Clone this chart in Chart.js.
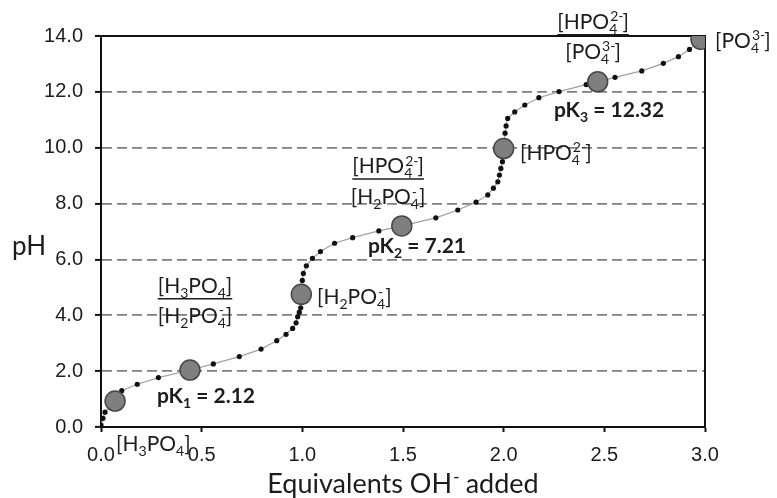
<!DOCTYPE html>
<html>
<head>
<meta charset="utf-8">
<script src="https://cdn.jsdelivr.net/npm/chart.js@4.4.0/dist/chart.umd.min.js"></script>
<style>
	html, body { margin: 0; padding: 0; background: #fff; }
	#wrap { width: 777px; height: 498px; }
</style>
</head>
<body>
<div id="wrap"><canvas id="chart-1" width="777" height="498"></canvas></div>
<script>
// small dots along the titration curve (equivalents OH- / pH)
var curveX = [0.0, 0.01, 0.02, 0.103, 0.18, 0.285, 0.558, 0.687, 0.795, 0.873, 0.919, 0.952, 0.969, 0.977, 0.985, 0.992,
	1.0, 1.005, 1.02, 1.05, 1.09, 1.16, 1.25, 1.38, 1.663, 1.772, 1.863, 1.921, 1.949, 1.971, 1.979, 1.986, 1.994,
	2.007, 2.012, 2.02, 2.055, 2.105, 2.175, 2.275, 2.41, 2.553, 2.686, 2.793, 2.868, 2.923];
var curveY = [0.07, 0.31, 0.53, 1.30, 1.53, 1.77, 2.26, 2.52, 2.79, 3.09, 3.32, 3.53, 3.73, 3.95, 4.11, 4.27,
	5.25, 5.50, 5.77, 6.04, 6.28, 6.58, 6.78, 7.02, 7.49, 7.77, 8.05, 8.31, 8.55, 8.78, 9.02, 9.26, 9.50,
	10.52, 10.78, 11.05, 11.28, 11.53, 11.79, 12.01, 12.26, 12.52, 12.75, 13.02, 13.26, 13.52];
// big grey circles (start, half-equivalence and equivalence points)
var markX = [0.07, 0.442, 0.995, 1.494, 2.0, 2.467, 2.98];
var markY = [0.93, 2.04, 4.75, 7.20, 9.97, 12.36, 13.88];
// axes
var xTicks = [0, 0.5, 1.0, 1.5, 2.0, 2.5, 3.0];
var yTicks = [0, 2, 4, 6, 8, 10, 12, 14];
var xTitle = 'Equivalents OH^- added';
var yTitle = 'pH';
// species / pK texts ( _ = subscript, ^ = superscript )
var noteTexts = ['[H_3PO_4]', 'pK_1 = 2.12', '[H_3PO_4]', '[H_2PO_4^-]', '[H_2PO_4^-]', '[HPO_4^{2-}]', '[H_2PO_4^-]',
	'pK_2 = 7.21', '[HPO_4^{2-}]', '[HPO_4^{2-}]', '[PO_4^{3-}]', 'pK_3 = 12.32', '[PO_4^{3-}]'];

// where the texts go, in chart units
var notePlaces = [
	{x: 0.075, y: -0.61},
	{x: 0.278, y: 1.11, bold: true},
	{x: 0.467, y: 5.05, align: 'center', underline: true},
	{x: 0.467, y: 3.97, align: 'center'},
	{x: 1.073, y: 4.65},
	{x: 1.426, y: 9.34, align: 'center', underline: true},
	{x: 1.426, y: 8.23, align: 'center'},
	{x: 1.326, y: 6.48, bold: true},
	{x: 2.081, y: 9.81},
	{x: 2.444, y: 14.5, align: 'center', underline: true},
	{x: 2.444, y: 13.43, align: 'center'},
	{x: 2.25, y: 11.35, bold: true},
	{x: 3.05, y: 13.82}
];

var ink = '#1c1c1c';
var noteFont = 'Lato';

function _parse(s){
	var out = [], buf = '', i = 0;
	function flush(){ if(buf){ out.push({t: buf}); buf = ''; } }
	while(i < s.length){
		if(s[i] === '_' || s[i] === '^'){
			flush();
			var seg = {sub: '', sup: ''};
			while(i < s.length && (s[i] === '_' || s[i] === '^')){
				var key = s[i] === '_' ? 'sub' : 'sup';
				i++;
				var v = '';
				if(s[i] === '{'){
					i++;
					while(i < s.length && s[i] !== '}'){ v += s[i]; i++; }
					i++;
				} else {
					v = s[i]; i++;
				}
				seg[key] = v;
			}
			out.push(seg);
		} else {
			buf += s[i]; i++;
		}
	}
	flush();
	return out;
}

function _drawRich(ctx, str, x, y, size, opt){
	var segs = _parse(str);
	var w = opt.bold ? 'bold ' : '';
	var big = w + size + 'px ' + opt.family;
	var small = w + Math.round(size * 0.68) + 'px ' + opt.family;
	function segW(s){
		if(s.t !== undefined){ ctx.font = big; return ctx.measureText(s.t).width; }
		ctx.font = small;
		return Math.max(ctx.measureText(s.sub).width, ctx.measureText(s.sup).width);
	}
	var total = 0;
	segs.forEach(function(s){ total += segW(s); });
	var cx = opt.align === 'center' ? x - total / 2 : x;
	var x0 = cx;
	var base = y + size * 0.35;
	ctx.save();
	ctx.fillStyle = ink;
	ctx.textAlign = 'left';
	ctx.textBaseline = 'alphabetic';
	segs.forEach(function(s){
		var sw = segW(s);
		if(s.t !== undefined){
			ctx.font = big;
			ctx.fillText(s.t, cx, base);
		} else {
			ctx.font = small;
			if(s.sub) ctx.fillText(s.sub, cx, base + size * 0.22);
			if(s.sup) ctx.fillText(s.sup, cx + 1, base - size * 0.38);
		}
		cx += sw;
	});
	if(opt.underline){
		ctx.strokeStyle = ink;
		ctx.lineWidth = 1.5;
		ctx.beginPath();
		ctx.moveTo(x0, base + size * 0.26);
		ctx.lineTo(x0 + total, base + size * 0.26);
		ctx.stroke();
	}
	ctx.restore();
}

var framePlugin = {
	id: 'frame',
	beforeDatasetsDraw: function(chart){
		var ctx = chart.ctx, a = chart.chartArea;
		ctx.save();
		ctx.strokeStyle = '#111';
		ctx.lineWidth = 2;
		ctx.beginPath();
		ctx.moveTo(a.left - 6, a.top);
		ctx.lineTo(a.right, a.top);
		ctx.lineTo(a.right, a.bottom);
		ctx.stroke();
		ctx.restore();
	}
};

var notesPlugin = {
	id: 'notes',
	afterDraw: function(chart){
		var ctx = chart.ctx, sx = chart.scales.x, sy = chart.scales.y;
		noteTexts.forEach(function(t, i){
			var p = notePlaces[i];
			_drawRich(ctx, t, sx.getPixelForValue(p.x), sy.getPixelForValue(p.y), p.bold ? 21 : 21,
				{family: noteFont, bold: p.bold, align: p.align, underline: p.underline});
		});
		_drawRich(ctx, xTitle, sx.getPixelForValue(1.5), 484, 27, {family: noteFont, align: 'center'});
		_drawRich(ctx, yTitle, 12, 246, 26, {family: noteFont});
	}
};

function _createChart(){
	var curve = curveX.map(function(x, i){ return {x: x, y: curveY[i]}; })
		.concat(markX.map(function(x, i){ return {x: x, y: markY[i]}; }))
		.sort(function(a, b){ return a.x - b.x || a.y - b.y; });
	var marks = markX.map(function(x, i){ return {x: x, y: markY[i]}; });
	var tickFont = {family: 'Liberation Sans', size: 20};

	new Chart(document.getElementById('chart-1'), {
		type: 'scatter',
		data: {
			datasets: [{
				data: marks,
				order: 0,
				showLine: false,
				pointRadius: 10,
				pointBackgroundColor: '#7f7f7f',
				pointBorderColor: '#474747',
				pointBorderWidth: 1.5
			}, {
				data: curve,
				order: 1,
				showLine: true,
				borderColor: '#a0a0a0',
				borderWidth: 1.2,
				pointRadius: 2.6,
				pointBackgroundColor: '#111',
				pointBorderWidth: 0
			}]
		},
		options: {
			responsive: false,
			animation: false,
			events: [],
			layout: {padding: {top: 36, right: 72, left: 0, bottom: 0}},
			plugins: {legend: {display: false}, tooltip: {enabled: false}},
			scales: {
				x: {
					type: 'linear',
					min: xTicks[0],
					max: xTicks[xTicks.length - 1],
					afterBuildTicks: function(s){ s.ticks = xTicks.map(function(v){ return {value: v}; }); },
					afterFit: function(s){ s.height = 71; },
					ticks: {
						color: ink, font: tickFont, padding: 11, maxRotation: 0, autoSkip: false,
						callback: function(v){ return v.toFixed(1); }
					},
					grid: {drawOnChartArea: false, tickLength: 5, tickColor: '#111', tickWidth: 2},
					border: {color: '#111', width: 2}
				},
				y: {
					min: yTicks[0],
					max: yTicks[yTicks.length - 1],
					afterBuildTicks: function(s){ s.ticks = yTicks.map(function(v){ return {value: v}; }); },
					afterFit: function(s){ s.width = 101; },
					ticks: {
						color: ink, font: tickFont, padding: 12,
						callback: function(v){ return v.toFixed(1); }
					},
					grid: {
						color: function(c){
							var v = c.tick ? c.tick.value : 0;
							return (v === yTicks[0] || v === yTicks[yTicks.length - 1]) ? 'rgba(0,0,0,0)' : '#808080';
						},
						lineWidth: 1.8,
						tickLength: 6, tickColor: '#111', tickWidth: 2
					},
					border: {color: '#111', width: 2, dash: [10, 5]}
				}
			}
		},
		plugins: [framePlugin, notesPlugin]
	});
}

_createChart();
</script>
</body>
</html>
